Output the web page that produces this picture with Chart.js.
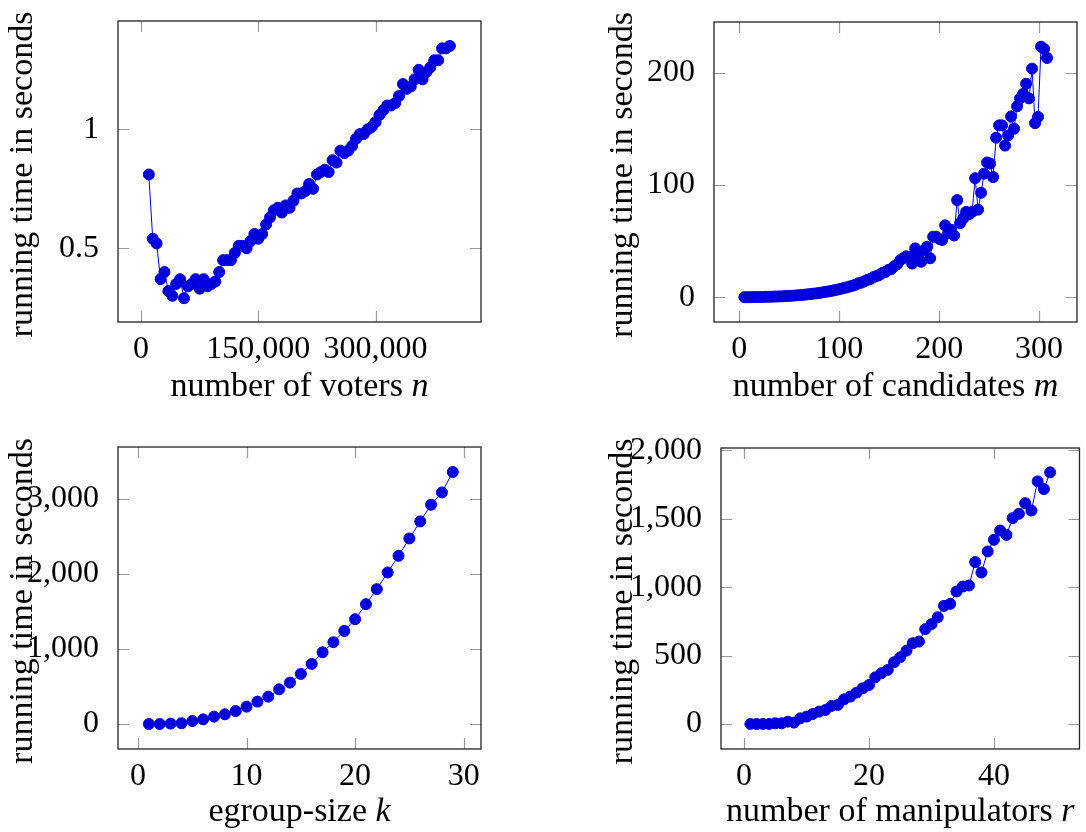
<!DOCTYPE html>
<html>
<head>
<meta charset="utf-8">
<title>Running time plots</title>
<script src="https://cdn.jsdelivr.net/npm/chart.js"></script>
<style>
  html, body { margin: 0; padding: 0; background: #fff; }
  body { width: 1086px; height: 832px; position: relative; overflow: hidden; }
  canvas { position: absolute; }
</style>
</head>
<body>
<canvas id="voters" width="543" height="416" style="left:0;top:0"></canvas>
<canvas id="candidates" width="543" height="416" style="left:543px;top:0"></canvas>
<canvas id="groups" width="543" height="416" style="left:0;top:416px"></canvas>
<canvas id="manipulators" width="543" height="416" style="left:543px;top:416px"></canvas>
<script>
// ---- data ----
const voters = [10000,15000,20000,25000,30000,35000,40000,45000,50000,55000,
  60000,65000,70000,75000,80000,85000,90000,95000,100000,105000,
  110000,115000,120000,125000,130000,135000,140000,145000,150000,155000,
  160000,165000,170000,175000,180000,185000,190000,195000,200000,205000,
  210000,215000,220000,225000,230000,235000,240000,245000,250000,255000,
  260000,265000,270000,275000,280000,285000,290000,295000,300000,305000,
  310000,315000,320000,325000,330000,335000,340000,345000,350000,355000,
  360000,365000,370000,375000,380000,385000,390000,395000];
const votersTime = [0.81,0.54,0.52,0.37,0.40,0.32,0.30,0.35,0.37,0.29,
  0.34,0.35,0.37,0.33,0.37,0.34,0.35,0.36,0.40,0.45,
  0.45,0.45,0.48,0.51,0.51,0.50,0.53,0.56,0.54,0.56,
  0.60,0.63,0.66,0.67,0.65,0.68,0.67,0.70,0.73,0.73,
  0.74,0.77,0.75,0.81,0.82,0.83,0.82,0.87,0.86,0.91,
  0.90,0.91,0.93,0.96,0.98,0.98,1.00,1.01,1.03,1.06,
  1.08,1.10,1.10,1.11,1.14,1.19,1.17,1.18,1.21,1.25,
  1.21,1.24,1.26,1.29,1.29,1.34,1.34,1.35];

const candidates = [5,8,11,14,17,20,23,26,29,32,
  35,38,41,44,47,50,53,56,59,62,
  65,68,71,74,77,80,83,86,89,92,
  95,98,101,104,107,110,113,116,119,122,
  125,128,131,134,137,140,143,146,149,152,
  155,158,161,164,167,170,173,176,179,182,
  185,188,191,194,197,200,203,206,209,212,
  215,218,221,224,227,230,233,236,239,242,
  245,248,251,254,257,260,263,266,269,272,
  275,278,281,284,287,290,293,296,299,302,
  305,308];
const candidatesTime = [0.1,0.1,0.1,0.2,0.2,0.2,0.3,0.4,0.4,0.5,
  0.6,0.7,0.8,0.9,1.1,1.2,1.4,1.6,1.8,2.0,
  2.3,2.6,2.9,3.2,3.5,3.9,4.3,4.8,5.2,5.7,
  6.2,6.8,7.4,8.1,8.7,9.5,10.2,11.1,12.4,13.0,
  14.2,15.4,16.3,17.9,18.8,19.7,21.6,22.4,24.3,25.1,
  27.6,29.4,33,34.7,36.5,36,30,43.5,37.6,31.6,
  42,45,34.7,53.9,53.9,52,51,64,57,60,
  55,86.5,66,70,76,74,76,106,78,93,
  110,120,119,107,142,153,153,135,144,161,
  150,170,177,181,190,177,203.5,155,160.5,223,
  221,213];

const groupSize = [1,2,3,4,5,6,7,8,9,10,11,12,13,14,15,16,17,18,19,20,21,22,23,24,25,26,27,28,29];
const groupTime = [0,0,5,10,40,62,98,129,173,231,298,364,462,551,667,800,955,1089,1240,1396,
  1596,1796,2018,2240,2471,2698,2920,3084,3356];

const manipulators = [1,2,3,4,5,6,7,8,9,10,11,12,13,14,15,16,17,18,19,20,
  21,22,23,24,25,26,27,28,29,30,31,32,33,34,35,36,37,38,39,40,
  41,42,43,44,45,46,47,48,49];
const manipulatorsTime = [0,0,0,0,5,5,17,10,41,54,73,90,102,132,139,180,200,229,261,285,
  341,371,395,451,488,536,590,602,693,729,780,863,878,968,1004,1012,1183,1107,1261,1346,
  1414,1382,1504,1536,1614,1560,1773,1717,1839];

const votersTicks = [0, 150000, 300000];
const votersTimeTicks = [0.5, 1];
const candidatesTicks = [0, 100, 200, 300];
const candidatesTimeTicks = [0, 100, 200];
const groupTicks = [0, 10, 20, 30];
const groupTimeTicks = [0, 1000, 2000, 3000];
const manipulatorsTicks = [0, 20, 40];
const manipulatorsTimeTicks = [0, 500, 1000, 1500, 2000];

// ---- styling ----
const BLUE = '#0000dd';
const FAMILY = "'Liberation Serif', 'Times New Roman', serif";
const TICK_LEN = 11;
const fmt = v => v.toLocaleString('en-US');

Chart.defaults.font.family = FAMILY;
Chart.defaults.color = '#000';

// pgfplots-like box with inward ticks on all sides, plus axis titles
const boxPlugin = {
  id: 'box',
  beforeDatasetsDraw(chart) {
    const { ctx, chartArea: a, scales } = chart;
    ctx.save();
    ctx.strokeStyle = '#999';
    ctx.lineWidth = 1.2;
    ctx.beginPath();
    scales.x.ticks.forEach(t => {
      const px = Math.round(scales.x.getPixelForValue(t.value)) + 0.5;
      ctx.moveTo(px, a.bottom); ctx.lineTo(px, a.bottom - TICK_LEN);
      ctx.moveTo(px, a.top); ctx.lineTo(px, a.top + TICK_LEN);
    });
    scales.y.ticks.forEach(t => {
      const py = Math.round(scales.y.getPixelForValue(t.value)) + 0.5;
      ctx.moveTo(a.left, py); ctx.lineTo(a.left + TICK_LEN, py);
      ctx.moveTo(a.right, py); ctx.lineTo(a.right - TICK_LEN, py);
    });
    ctx.stroke();
    ctx.strokeStyle = '#222';
    ctx.lineWidth = 1.3;
    ctx.strokeRect(a.left, a.top, a.right - a.left, a.bottom - a.top);
    ctx.restore();
  },
  afterDraw(chart) {
    const o = chart.options.plugins.box;
    const { ctx, chartArea: a } = chart;
    ctx.save();
    ctx.fillStyle = '#000';
    ctx.textBaseline = 'alphabetic';
    // x title: words upright, variable in italic
    const upright = '34px ' + FAMILY, italic = 'italic 34px ' + FAMILY;
    ctx.font = upright;
    const w1 = ctx.measureText(o.xText).width;
    ctx.font = italic;
    const w2 = ctx.measureText(o.xVar).width;
    const x0 = (a.left + a.right) / 2 - (w1 + w2) / 2;
    const yb = a.bottom + o.xTitleGap;
    ctx.textAlign = 'left';
    ctx.font = upright;
    ctx.fillText(o.xText, x0, yb);
    ctx.font = italic;
    ctx.fillText(o.xVar, x0 + w1, yb);
    // y title rotated
    ctx.font = upright;
    ctx.translate(o.yTitleX, (a.top + a.bottom) / 2 + 3);
    ctx.rotate(-Math.PI / 2);
    ctx.textAlign = 'center';
    ctx.fillText('running time in seconds', 0, 0);
    ctx.restore();
  }
};

function plot(id, xs, ys, o) {
  new Chart(document.getElementById(id), {
    type: 'scatter',
    data: {
      datasets: [{
        data: xs.map((x, i) => ({ x: x, y: ys[i] })),
        showLine: true,
        borderColor: BLUE,
        borderWidth: 1,
        backgroundColor: BLUE,
        pointBackgroundColor: BLUE,
        pointBorderColor: BLUE,
        pointBorderWidth: 1,
        pointRadius: 5.5,
        clip: false
      }]
    },
    options: {
      responsive: false,
      animation: false,
      devicePixelRatio: 1,
      events: [],
      layout: { padding: { top: o.top, right: o.right, left: 0, bottom: 0 } },
      plugins: {
        legend: { display: false },
        tooltip: { enabled: false },
        box: { xText: o.xText, xVar: o.xVar, xTitleGap: o.xTitleGap, yTitleX: o.yTitleX }
      },
      scales: {
        x: {
          type: 'linear', min: o.xRange[0], max: o.xRange[1],
          grid: { display: false }, border: { display: false },
          afterBuildTicks: s => { s.ticks = o.xTicks.map(v => ({ value: v })); },
          afterFit: s => { s.height = o.xAxisH; s.paddingLeft = 0; s.paddingRight = 0; },
          ticks: { font: { size: 32, lineHeight: 1.2 }, padding: 0, maxRotation: 0, autoSkip: false, callback: fmt }
        },
        y: {
          type: 'linear', min: o.yRange[0], max: o.yRange[1],
          grid: { display: false }, border: { display: false },
          afterBuildTicks: s => { s.ticks = o.yTicks.map(v => ({ value: v })); },
          afterFit: s => { s.width = o.yAxisW; s.paddingTop = 0; s.paddingBottom = 0; },
          ticks: { font: { size: 32, lineHeight: 1.2 }, padding: 11, autoSkip: false, callback: fmt }
        }
      }
    },
    plugins: [boxPlugin]
  });
}

plot('voters', voters, votersTime, {
  xRange: [-29400, 434800], yRange: [0.19, 1.455],
  xTicks: votersTicks, yTicks: votersTimeTicks,
  top: 21, right: 62, yAxisW: 118, xAxisH: 94,
  xText: 'number of voters ', xVar: 'n', xTitleGap: 74, yTitleX: 32
});
plot('candidates', candidates, candidatesTime, {
  xRange: [-25.4, 338], yRange: [-22, 245],
  xTicks: candidatesTicks, yTicks: candidatesTimeTicks,
  top: 22, right: 9, yAxisW: 171, xAxisH: 94,
  xText: 'number of candidates ', xVar: 'm', xTitleGap: 74, yTitleX: 89
});
plot('groups', groupSize, groupTime, {
  xRange: [-1.85, 31.6], yRange: [-333, 3689],
  xTicks: groupTicks, yTicks: groupTimeTicks,
  top: 31, right: 62, yAxisW: 118, xAxisH: 83,
  xText: 'egroup-size ', xVar: 'k', xTitleGap: 72, yTitleX: 32
});
plot('manipulators', manipulators, manipulatorsTime, {
  xRange: [-3.7, 53.7], yRange: [-183, 2017],
  xTicks: manipulatorsTicks, yTicks: manipulatorsTimeTicks,
  top: 32, right: 4, yAxisW: 178, xAxisH: 83,
  xText: 'number of manipulators ', xVar: 'r', xTitleGap: 72, yTitleX: 89
});
</script>
</body>
</html>
